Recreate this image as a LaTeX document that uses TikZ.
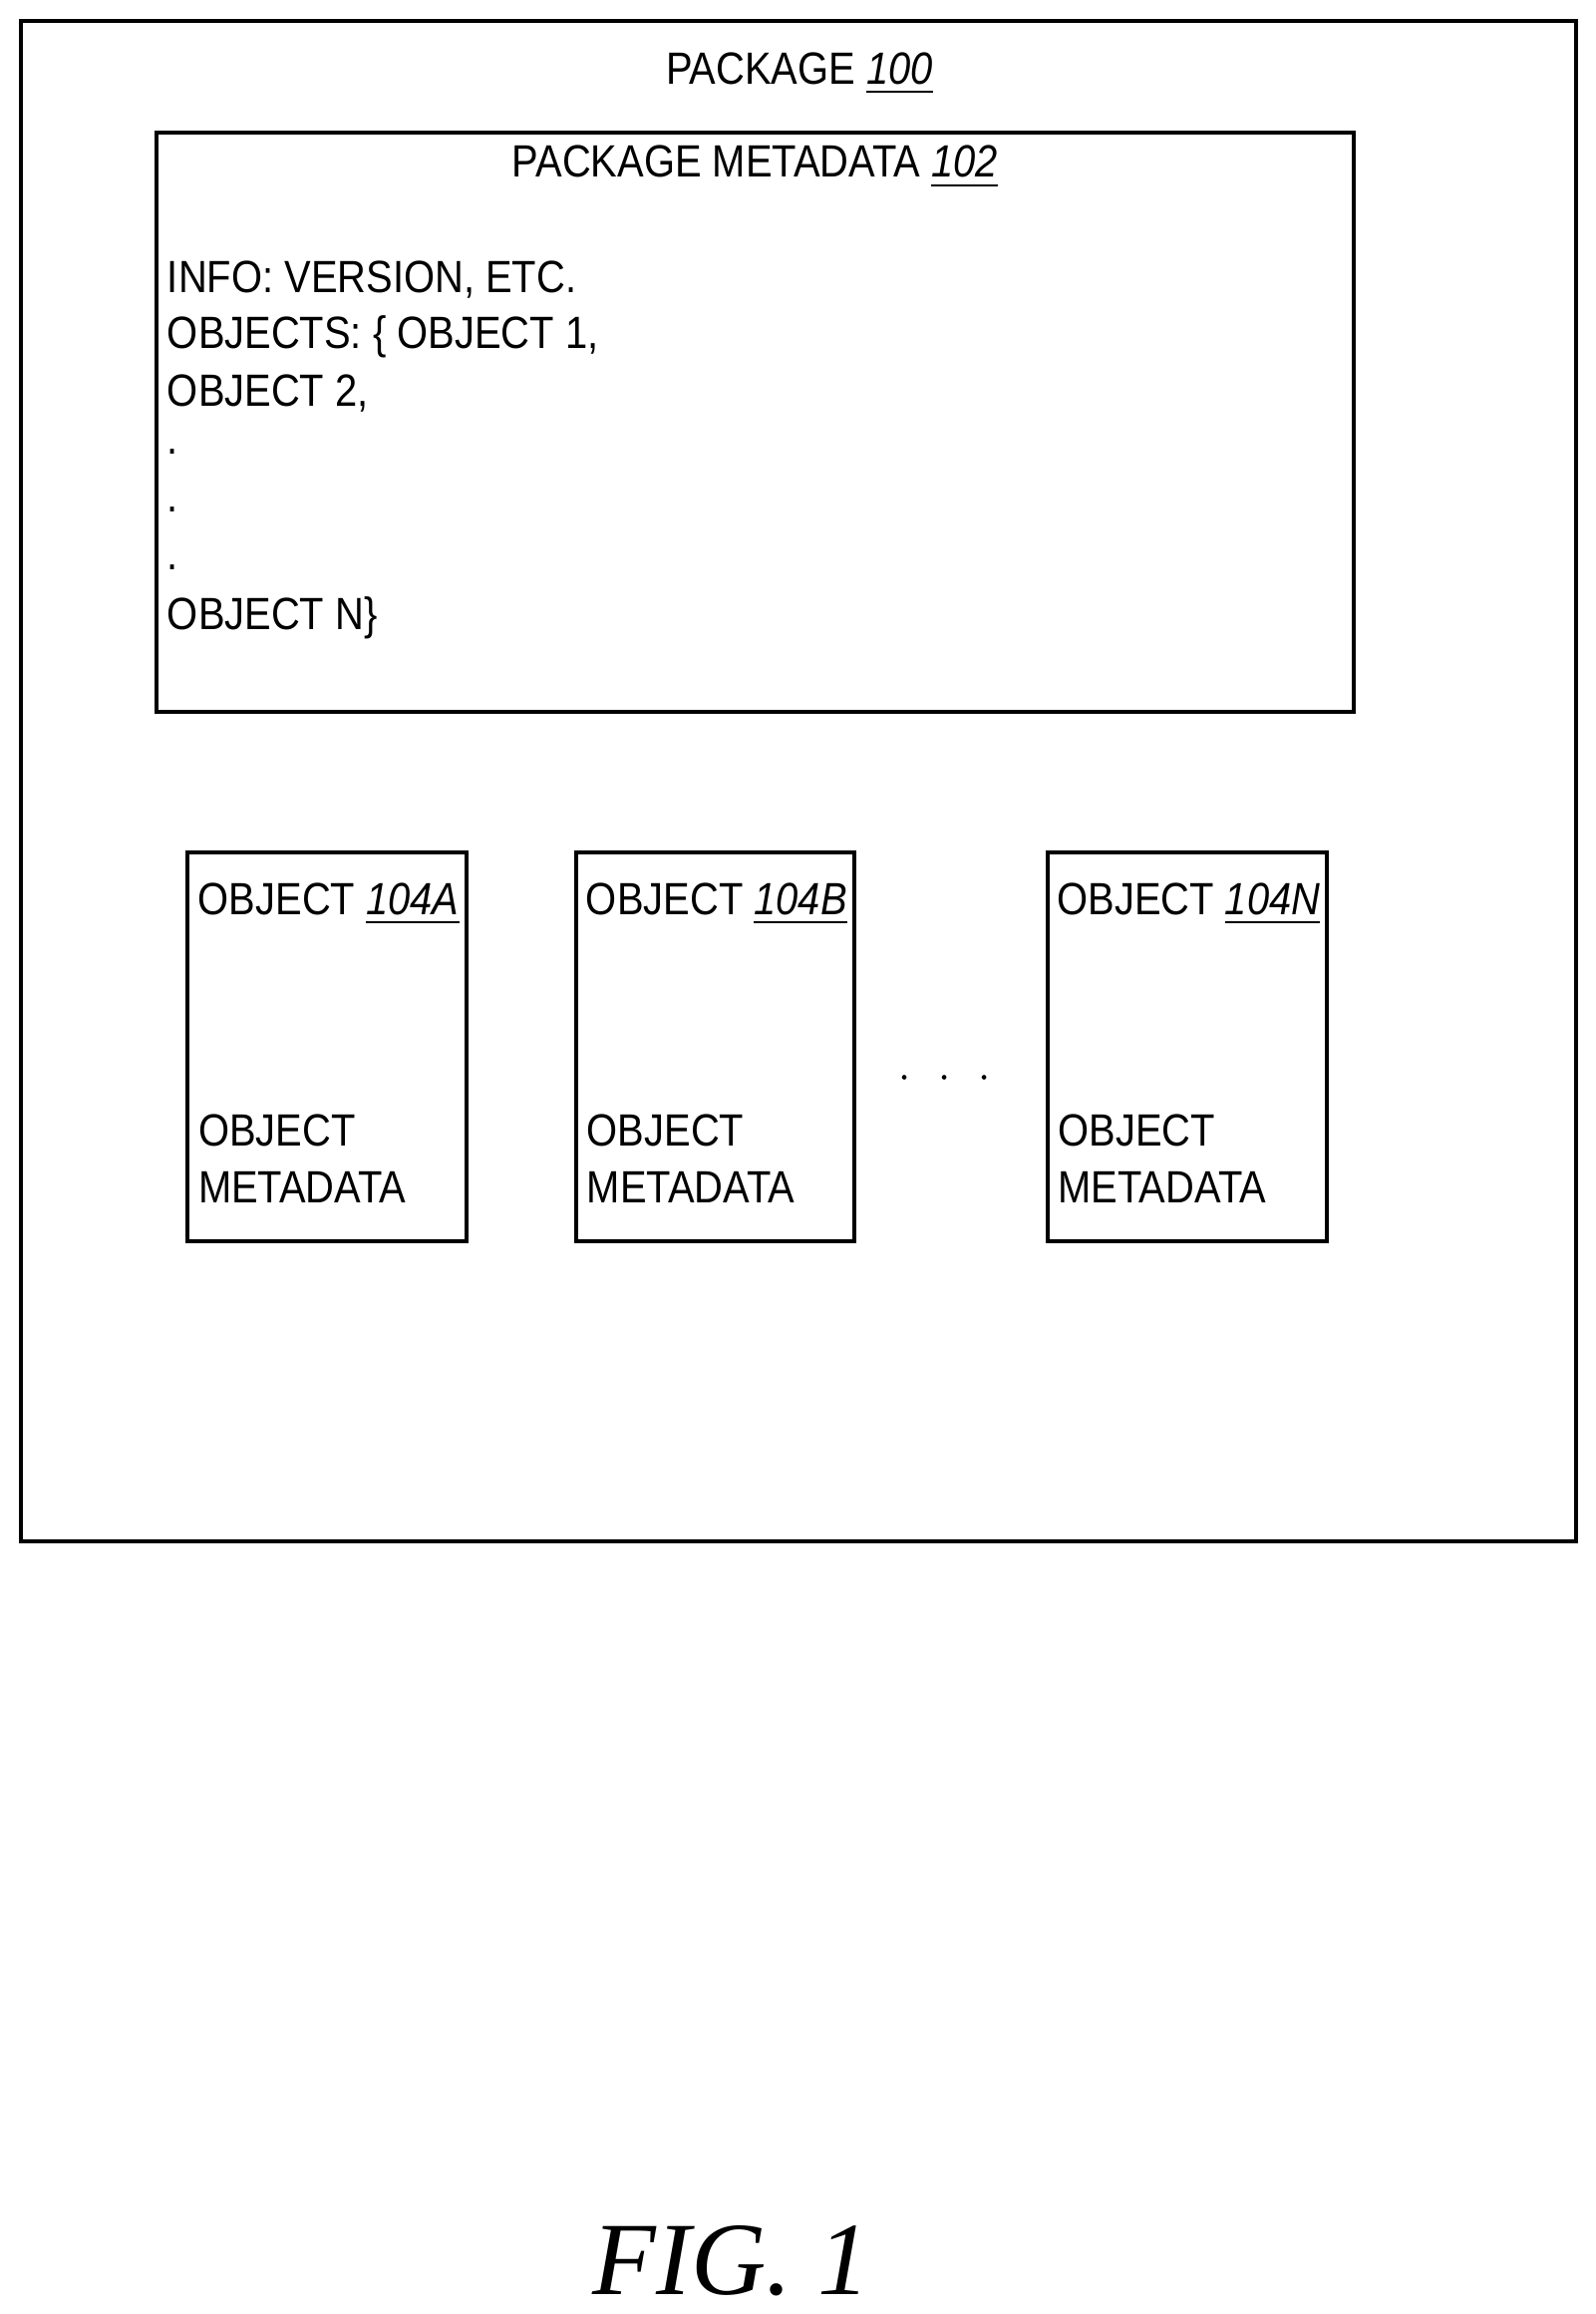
\documentclass[tikz,border=0pt]{standalone}
\usepackage{fontspec}
\setmainfont{Liberation Sans}[FakeStretch=0.88]
\newfontfamily\figfont{Liberation Serif}
\begin{document}
\begin{tikzpicture}[x=0.01cm,y=-0.01cm,line width=0.75pt,
  txt/.style={font=\fontsize{8.7}{11}\selectfont,inner sep=0pt},
  box/.style={draw=black}]
\useasboundingbox (0,0) rectangle (1080,1566);
\newcommand{\rn}[1]{\underline{\textit{#1}}}
\draw[box] (14,14) rectangle (1067,1043);
\node[txt] (pkg) at (541,50) {PACKAGE \rn{100}};
\draw[box] (106,90) rectangle (916,482);
\node[txt] (meta) at (511,113) {PACKAGE METADATA \rn{102}};
\foreach \t/\y [count=\i] in {INFO: VERSION{,} ETC./189,OBJECTS: \{ OBJECT 1{,}/228,OBJECT 2{,}/266,./306,./345,./384,OBJECT N\}/418}
  \node[txt,anchor=west] (l\i) at (112,\y) {\t};
\foreach \xa/\xb/\lab/\n in {127/316/104A/a,390/578/104B/b,709/898/104N/n}{
  \draw[box] (\xa,577) rectangle (\xb,840);
  \node[txt] (o\n) at ({(\xa+\xb)/2+1},612) {OBJECT \rn{\lab}};
  \node[txt,anchor=west,align=left] (m\n) at (\xa+6,784) {OBJECT\\[0pt]METADATA};
}
\foreach \x in {612,639,666} \fill (\x,729) circle (1.6);
\node[inner sep=0pt,font=\figfont\itshape\fontsize{20}{24}\selectfont] (fig) at (495,1530) {FIG. 1};
\end{tikzpicture}
\end{document}
